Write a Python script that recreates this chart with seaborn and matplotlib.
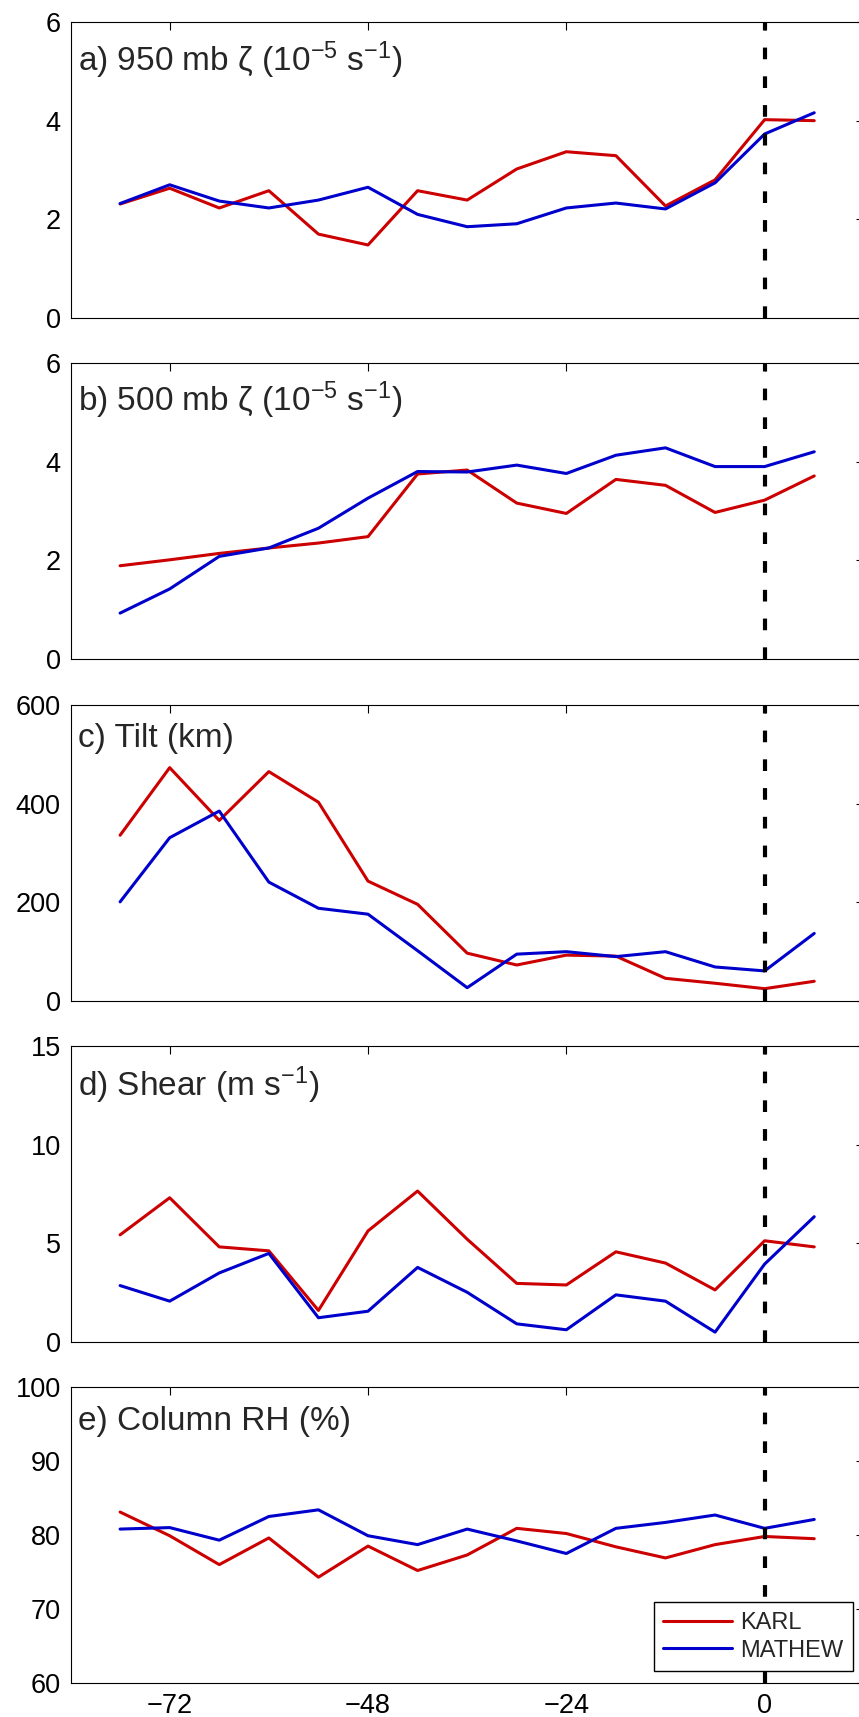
"""
Five-panel time series of KARL vs MATHEW (hours relative to genesis).
"""
import matplotlib
matplotlib.use("Agg")
import matplotlib.pyplot as plt
import pandas as pd
import seaborn as sns

sns.set_style("white")
plt.rcParams["font.family"] = ["Liberation Sans", "DejaVu Sans"]
plt.rcParams["mathtext.fontset"] = "custom"
plt.rcParams["mathtext.rm"] = "Liberation Sans"
plt.rcParams["mathtext.it"] = "Liberation Sans:italic"
plt.rcParams["mathtext.default"] = "regular"

hours = [-78, -72, -66, -60, -54, -48, -42, -36, -30, -24, -18, -12, -6, 0, 6]
storms = ["KARL", "MATHEW"]
colors = {"KARL": "#cc0000", "MATHEW": "#0000cc"}

vort950_karl = [2.31, 2.63, 2.23, 2.58, 1.70, 1.48, 2.58, 2.39, 3.02, 3.37, 3.29, 2.27, 2.80, 4.02, 4.00]
vort950_mathew = [2.32, 2.70, 2.37, 2.23, 2.39, 2.65, 2.10, 1.85, 1.91, 2.23, 2.33, 2.21, 2.74, 3.73, 4.16]

vort500_karl = [1.89, 2.01, 2.14, 2.25, 2.35, 2.48, 3.75, 3.83, 3.16, 2.95, 3.64, 3.52, 2.97, 3.22, 3.71]
vort500_mathew = [0.93, 1.42, 2.08, 2.25, 2.65, 3.26, 3.80, 3.79, 3.93, 3.76, 4.13, 4.28, 3.90, 3.90, 4.20]

tilt_karl = [336, 473, 366, 465, 403, 243, 196, 97, 73, 93, 91, 46, 36, 25, 40]
tilt_mathew = [201, 331, 385, 241, 188, 176, 102, 27, 95, 100, 90, 100, 69, 61, 137]

shear_karl = [5.43, 7.31, 4.82, 4.62, 1.60, 5.63, 7.65, 5.21, 2.97, 2.89, 4.57, 4.00, 2.64, 5.13, 4.82]
shear_mathew = [2.86, 2.07, 3.50, 4.49, 1.23, 1.56, 3.78, 2.52, 0.92, 0.62, 2.39, 2.07, 0.50, 3.95, 6.35]

rh_karl = [83.1, 79.9, 76.0, 79.6, 74.3, 78.5, 75.2, 77.3, 80.9, 80.2, 78.4, 76.9, 78.7, 79.8, 79.5]
rh_mathew = [80.8, 81.0, 79.3, 82.5, 83.4, 79.9, 78.7, 80.8, 79.2, 77.5, 80.9, 81.7, 82.7, 80.9, 82.1]

titles = [
    r"a) 950 mb $\zeta$ (10$^{-5}$ s$^{-1}$)",
    r"b) 500 mb $\zeta$ (10$^{-5}$ s$^{-1}$)",
    "c) Tilt (km)",
    r"d) Shear (m s$^{-1}$)",
    "e) Column RH (%)",
]
series = [
    (vort950_karl, vort950_mathew),
    (vort500_karl, vort500_mathew),
    (tilt_karl, tilt_mathew),
    (shear_karl, shear_mathew),
    (rh_karl, rh_mathew),
]
ylims = [(0, 6), (0, 6), (0, 600), (0, 15), (60, 100)]
yticks = [[0, 2, 4, 6], [0, 2, 4, 6], [0, 200, 400, 600], [0, 5, 10, 15], [60, 70, 80, 90, 100]]
xticks = [-72, -48, -24, 0]

fig = plt.figure(figsize=(8.59, 17.17), dpi=100)
bottoms = [0.8148, 0.6162, 0.4170, 0.2184, 0.0198]
title_y = [0.834, 0.836, 0.857, 0.830, 0.855]

for i in range(5):
    ax = fig.add_axes([0.0821, bottoms[i], 0.9235, 0.1724])
    karl, mathew = series[i]
    df = pd.DataFrame({
        "Hour": hours * 2,
        "Value": karl + mathew,
        "Storm": ["KARL"] * len(hours) + ["MATHEW"] * len(hours),
    })
    sns.lineplot(data=df, x="Hour", y="Value", hue="Storm", hue_order=storms,
                 palette=colors, linewidth=2.2, ax=ax, legend=(i == 4))
    ax.axvline(0, color="black", linewidth=3, dashes=(2.8, 4.1), zorder=3)
    ax.set_xlim(-84, 12)
    ax.set_ylim(*ylims[i])
    ax.set_xticks(xticks)
    ax.set_yticks(yticks[i])
    ax.set_xlabel("")
    ax.set_ylabel("")
    ax.tick_params(direction="in", top=True, right=True, length=6,
                   width=0.8, labelsize=19.5, pad=7, colors="black")
    if i < 4:
        ax.set_xticklabels([])
    for s in ax.spines.values():
        s.set_linewidth(0.8)
        s.set_color("black")
    ax.text(0.009, title_y[i], titles[i], transform=ax.transAxes, fontsize=24,
            ha="left", va="baseline")
    if i == 4:
        leg = ax.legend(loc="lower right", bbox_to_anchor=(0.986, 0.04),
                        fontsize=17, frameon=True, fancybox=False,
                        handlelength=2.9, borderpad=0.4, labelspacing=0.25,
                        handletextpad=0.35, borderaxespad=0)
        leg.get_frame().set_edgecolor("black")
        leg.get_frame().set_linewidth(1)
        leg.get_frame().set_alpha(1)
        leg.set_title(None)
        leg.set_zorder(10)

fig.savefig("out.png", dpi=100)
